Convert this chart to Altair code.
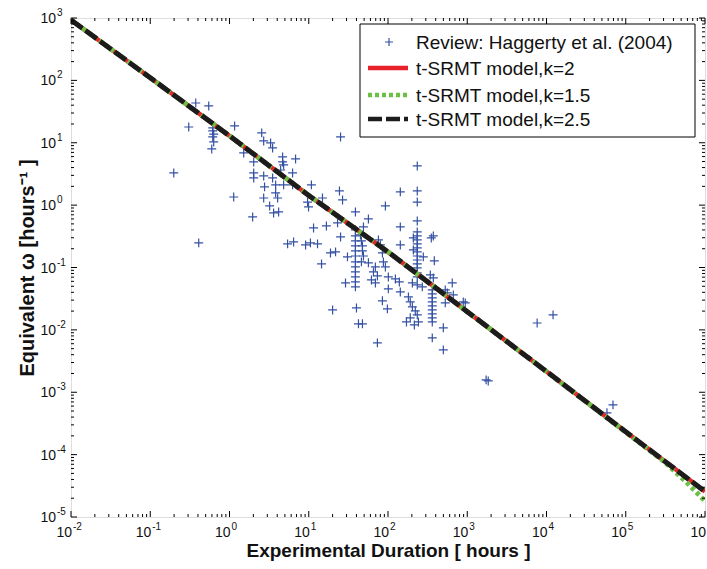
import altair as alt
import pandas as pd

# ---------------- data ----------------
dur = [0.198, 0.409, 0.306, 0.375, 0.547, 0.614, 0.614, 0.632, 0.614, 0.632, 0.597, 1.16, 1.13, 1.51,
       2.02, 2.02, 2.02, 1.96, 2.55, 2.70, 3.30, 3.50, 2.70, 2.77, 2.70, 3.21, 3.50, 3.82, 3.82, 4.05,
       3.60, 4.17, 4.68, 4.68, 4.82, 4.42, 4.82, 6.25, 6.25, 6.82, 5.41, 6.44,
       9.12, 10.5, 12.9, 10.8, 9.66, 9.94, 11.5, 14.9, 16.7, 23.1, 14.5, 18.8, 21.8, 24.4, 26.7, 25.2,
       25.2, 30.8, 29.1, 20.0,
       38.8, 38.8, 38.8, 38.8, 38.8, 38.8, 38.8, 38.8, 38.8, 38.8, 38.8, 38.8,
       38.8, 44.9, 46.2, 47.6, 47.6, 49.0, 46.2, 49.0, 40.0, 42.4, 47.6,
       56.6, 92.7, 75.7, 80.2, 85.0, 87.5, 92.7, 56.6, 69.3, 65.5, 73.5, 61.8, 69.3, 101, 124, 139,
       101, 85.0, 98.2, 73.5, 143, 143, 143, 143,
       234, 234, 234, 234, 234, 234, 234, 234, 234, 234, 234, 234, 234, 234, 234, 234,
       209, 209, 203, 234, 271, 181, 191, 203, 221, 234, 191, 171, 242, 215,
       279, 352, 373, 384, 342, 373,
       362, 362, 362, 362, 362, 362, 362, 362, 362,
       647, 528, 560, 667, 891, 944, 528, 499, 362, 499, 1730, 1840, 7620, 12100, 69000, 57900]

omega = [3.28, 0.248, 17.9, 43.4, 38.9, 17.3, 15.5, 13.8, 12.4, 10.3, 7.96, 18.6, 1.35, 6.87,
         4.92, 3.28, 2.73, 0.647, 14.4, 10.7, 9.93, 8.26, 2.94, 1.96, 1.30, 0.971, 2.73, 2.11, 1.57, 1.30,
         0.750, 0.778, 5.92, 4.92, 4.41, 3.66, 2.11, 3.28, 2.11, 5.50, 0.239, 0.257,
         0.230, 0.248, 0.239, 2.11, 1.12, 0.936, 0.431, 1.30, 0.464, 0.519, 0.114, 0.171, 0.178, 1.69, 1.21, 12.4,
         0.309, 0.148, 0.0566, 0.0209,
         0.401, 0.321, 0.267, 0.222, 0.185, 0.153, 0.123, 0.102, 0.0850, 0.0706, 0.0587, 0.0489,
         0.778, 0.333, 0.267, 0.222, 0.185, 0.153, 0.123, 0.448, 0.0225, 0.0125, 0.0125,
         0.601, 0.971, 0.277, 0.230, 0.171, 0.123, 0.102, 0.119, 0.102, 0.0850, 0.0733, 0.0632, 0.0566, 0.0706, 0.0656, 0.0587,
         0.0454, 0.0292, 0.0217, 0.00619, 1.63, 0.448, 0.230, 0.0406,
         4.25, 1.69, 1.12, 0.558, 0.372, 0.321, 0.277, 0.239, 0.206, 0.178, 0.153, 0.132, 0.114, 0.0986, 0.0819, 0.0706,
         0.298, 0.191, 0.0566, 0.0526, 0.0489, 0.0338, 0.0281, 0.0234, 0.0201, 0.0174, 0.0156, 0.0134, 0.0134, 0.0120,
         0.148, 0.298, 0.321, 0.128, 0.0760, 0.0681,
         0.0438, 0.0378, 0.0326, 0.0281, 0.0243, 0.0209, 0.0180, 0.0156, 0.0134,
         0.0566, 0.0438, 0.0392, 0.0364, 0.0281, 0.0271, 0.0271, 0.0108, 0.00745, 0.00478, 0.00158, 0.00152,
         0.0129, 0.0174, 0.000628, 0.000468]

# model curves (read at decade points)
model_t = [1e-2, 1e-1, 1, 10, 100, 1000, 1e4, 1e5, 1e6]
k2_w = [930, 110, 12.9, 1.43, 0.178, 0.0196, 0.00215, 2.32e-4, 2.56e-5]
k25_w = [930, 110, 12.9, 1.43, 0.178, 0.0196, 0.00215, 2.32e-4, 2.56e-5]
k15_t = [1e-2, 1e-1, 1, 10, 100, 1000, 1e4, 1e5, 3e5, 6e5, 1e6]
k15_w = [930, 110, 12.9, 1.43, 0.178, 0.0196, 0.00215, 2.30e-4, 7.9e-5, 3.5e-5, 1.8e-5]

# axis ticks / labels
x_major = [1e-2, 1e-1, 1, 10, 100, 1000, 1e4, 1e5, 1e6]
x_exp = ["-2", "-1", "0", "1", "2", "3", "4", "5", "6"]
y_major = [1e-5, 1e-4, 1e-3, 1e-2, 1e-1, 1, 10, 100, 1000]
y_exp = ["-5", "-4", "-3", "-2", "-1", "0", "1", "2", "3"]
x_minor = [m * 10.0 ** e for e in range(-2, 6) for m in range(2, 10)]
y_minor = [m * 10.0 ** e for e in range(-5, 3) for m in range(2, 10)]

legend_labels = ["Review: Haggerty et al. (2004)", "t-SRMT model,k=2",
                 "t-SRMT model,k=1.5", "t-SRMT model,k=2.5"]

# ---------------- chart ----------------
W, H = 634, 499
FONT = "Liberation Sans"
BLUE = "#3551a4"
RED = "#e8222a"
GREEN = "#6cbf45"
BLACK = "#1c1c1c"

xs = alt.Scale(type="log", domain=[1e-2, 1e6], nice=False)
ys = alt.Scale(type="log", domain=[1e-5, 1e3], nice=False)
xax = alt.Axis(title="Experimental Duration [ hours ]", labels=False, ticks=False, domain=False,
               grid=False, titlePadding=24, titleFontSize=19, titleFontWeight="bold",
               titleFont=FONT, titleColor="#111111")
yax = alt.Axis(title="Equivalent ω [hours⁻¹ ]", labels=False, ticks=False, domain=False,
               grid=False, titlePadding=34, titleFontSize=20, titleFontWeight="bold",
               titleFont=FONT, titleColor="#111111")


def X(f):
    return alt.X(f, type="quantitative", scale=xs, axis=xax)


def Y(f):
    return alt.Y(f, type="quantitative", scale=ys, axis=yax)


pts = pd.DataFrame({"t": dur, "w": omega})
scatter = alt.Chart(pts).mark_point(
    shape="M-1,0L1,0M0,-1L0,1", filled=False, size=80, strokeWidth=1.2,
    color=BLUE, opacity=1, clip=True
).encode(x=X("t"), y=Y("w"))

red = alt.Chart(pd.DataFrame({"t": model_t, "w": k2_w})).mark_line(
    color=RED, strokeWidth=4.5, clip=True).encode(x=X("t"), y=Y("w"))
green = alt.Chart(pd.DataFrame({"t": k15_t, "w": k15_w})).mark_line(
    color=GREEN, strokeWidth=5, strokeDash=[4, 3], clip=True).encode(x=X("t"), y=Y("w"))
black = alt.Chart(pd.DataFrame({"t": model_t, "w": k25_w})).mark_line(
    color=BLACK, strokeWidth=5, strokeDash=[14, 4], clip=True).encode(x=X("t"), y=Y("w"))

xmaj = pd.DataFrame({"v": x_major, "e": x_exp, "b": ["10"] * len(x_major)})
ymaj = pd.DataFrame({"v": y_major, "e": y_exp, "b": ["10"] * len(y_major)})
xmin_df = pd.DataFrame({"v": x_minor})
ymin_df = pd.DataFrame({"v": y_minor})

tick_layers = []
for df, ln in ((xmaj, 6), (xmin_df, 3)):
    tick_layers.append(alt.Chart(df).mark_rule(color="black", strokeWidth=1).encode(
        x=X("v"), y=alt.value(H), y2=alt.value(H - ln)))
    tick_layers.append(alt.Chart(df).mark_rule(color="black", strokeWidth=1).encode(
        x=X("v"), y=alt.value(0), y2=alt.value(ln)))
for df, ln in ((ymaj, 6), (ymin_df, 3)):
    tick_layers.append(alt.Chart(df).mark_rule(color="black", strokeWidth=1).encode(
        y=Y("v"), x=alt.value(0), x2=alt.value(ln)))
    tick_layers.append(alt.Chart(df).mark_rule(color="black", strokeWidth=1).encode(
        y=Y("v"), x=alt.value(W), x2=alt.value(W - ln)))

xlab_base = alt.Chart(xmaj).mark_text(font=FONT, fontSize=14, align="right", baseline="middle",
                                      dx=1, color="#111111").encode(
    x=X("v"), y=alt.value(H + 16), text="b:N")
xlab_exp = alt.Chart(xmaj).mark_text(font=FONT, fontSize=10, align="left", baseline="middle",
                                     dx=2, color="#111111").encode(
    x=X("v"), y=alt.value(H + 10), text="e:N")
ylab_base = alt.Chart(ymaj).mark_text(font=FONT, fontSize=14, align="right", baseline="middle",
                                      dy=1, color="#111111").encode(
    y=Y("v"), x=alt.value(-15), text="b:N")
ylab_exp = alt.Chart(ymaj).mark_text(font=FONT, fontSize=10, align="left", baseline="middle",
                                     dy=-5, color="#111111").encode(
    y=Y("v"), x=alt.value(-14), text="e:N")

# ---- legend (drawn in the plot area, top right) ----
LX0, LX1, LY0, LY1 = 289, 624, 6, 119
rows = [24, 50, 77, 101]
leg = [alt.Chart(pd.DataFrame({"a": [0]})).mark_rect(fill="white", stroke="black", strokeWidth=1).encode(
    x=alt.value(LX0), x2=alt.value(LX1), y=alt.value(LY0), y2=alt.value(LY1))]
leg.append(alt.Chart(pd.DataFrame({"a": [0]})).mark_point(
    shape="M-1,0L1,0M0,-1L0,1", filled=False, size=64, strokeWidth=1.2, color=BLUE, opacity=1).encode(
    x=alt.value(318), y=alt.value(rows[0])))
for r, col, dash, sw in ((rows[1], RED, None, 4.5), (rows[2], GREEN, [4, 3], 4.5), (rows[3], BLACK, [14, 4], 4.5)):
    kw = dict(color=col, strokeWidth=sw)
    if dash is not None:
        kw["strokeDash"] = dash
    leg.append(alt.Chart(pd.DataFrame({"a": [0]})).mark_rule(**kw).encode(
        x=alt.value(297), x2=alt.value(337), y=alt.value(r)))
for r, lab in zip(rows, legend_labels):
    leg.append(alt.Chart(pd.DataFrame({"a": [0]})).mark_text(
        text=lab, font=FONT, fontSize=19, align="left", baseline="middle", color="#111111").encode(
        x=alt.value(345), y=alt.value(r + 1)))

chart = alt.layer(
    scatter, red, green, black, *tick_layers,
    xlab_base, xlab_exp, ylab_base, ylab_exp, *leg
).properties(
    width=W, height=H,
    padding={"left": 71, "top": 18, "right": 2, "bottom": 52},
    autosize=alt.AutoSizeParams(type="none"),
).configure_view(stroke="black", strokeWidth=1).configure(background="white")

chart.save("out.html", embed_options={"renderer": "svg", "actions": False})
